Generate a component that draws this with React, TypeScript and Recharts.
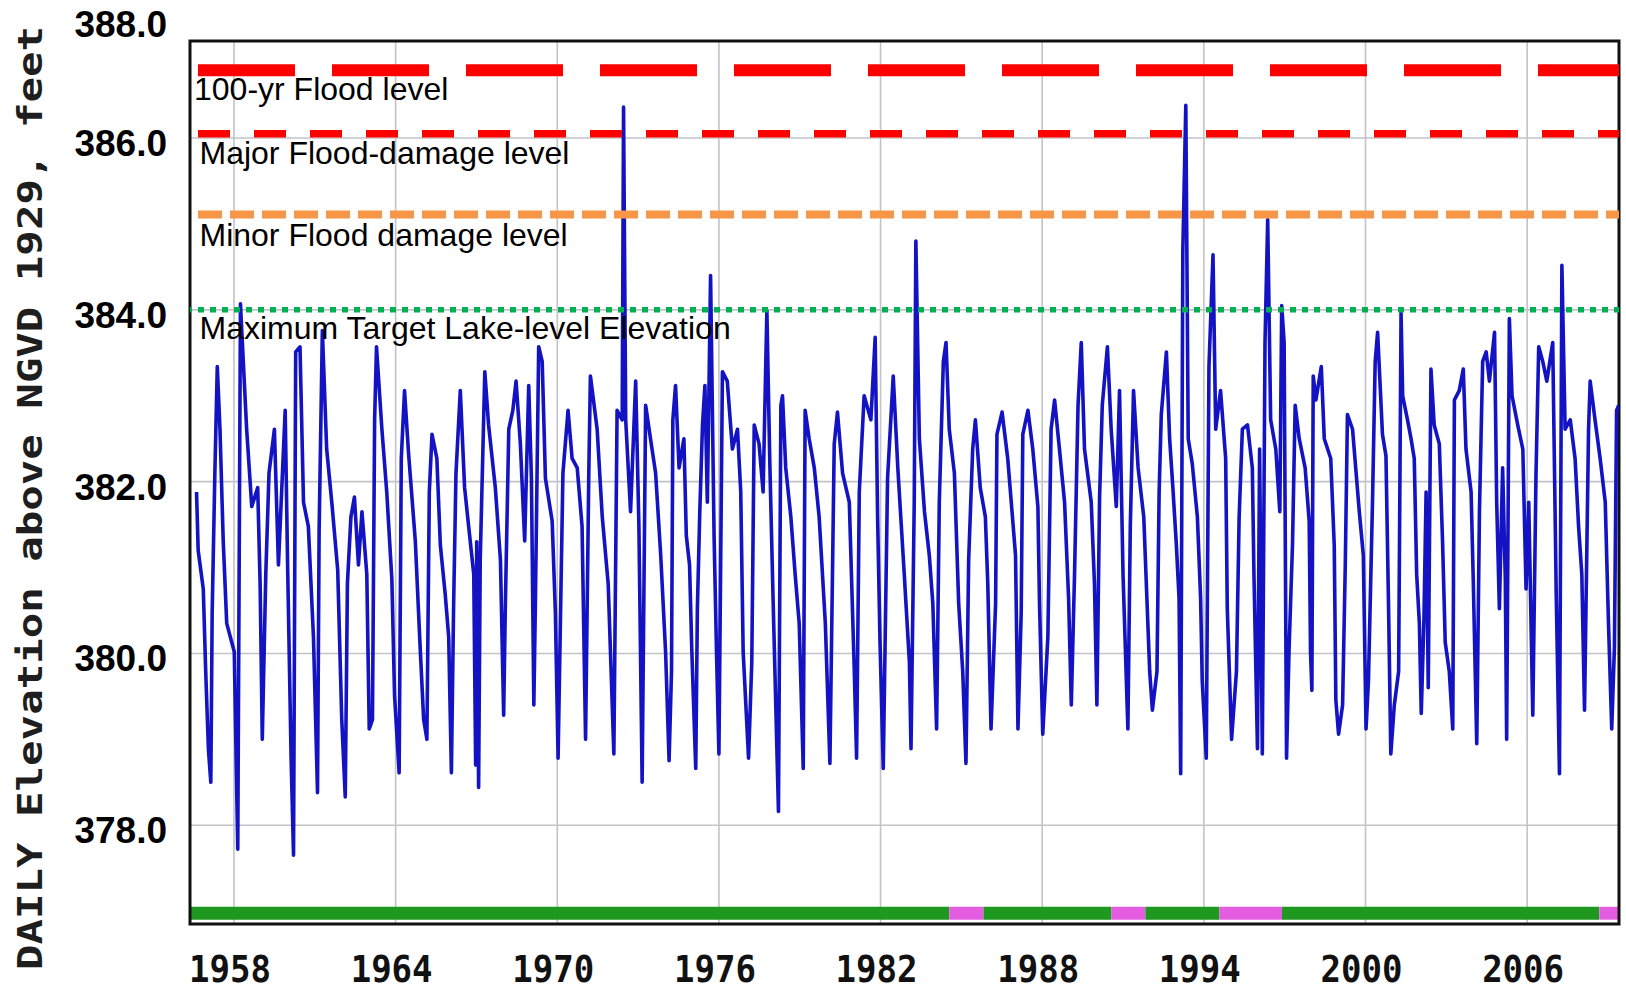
import React from 'react';
import { LineChart, Line, XAxis, YAxis, CartesianGrid, ReferenceLine, ReferenceArea } from 'recharts';

// ---------- data (decimal year, daily lake elevation ft NGVD 1929) ----------
const levels1956to1965: [number, number][] = [
  [1956.61, 381.88], [1956.67, 381.2], [1956.86, 380.75], [1956.95, 379.79], [1957.05, 378.89],
  [1957.14, 378.5], [1957.19, 380.47], [1957.29, 382.1], [1957.38, 383.34], [1957.48, 382.61],
  [1957.6, 381.31], [1957.73, 380.35], [1958.01, 380.02], [1958.14, 377.72], [1958.24, 384.07],
  [1958.47, 382.61], [1958.66, 381.71], [1958.88, 381.93], [1958.97, 380.81], [1959.05, 379.0],
  [1959.18, 380.92], [1959.3, 382.1], [1959.5, 382.61], [1959.65, 381.03], [1959.9, 382.83],
  [1959.99, 381.03], [1960.12, 378.78], [1960.21, 377.65], [1960.29, 383.51], [1960.45, 383.57],
  [1960.58, 381.76], [1960.76, 381.48], [1960.95, 380.19], [1961.1, 378.38], [1961.16, 381.43],
  [1961.28, 383.76], [1961.44, 382.38], [1961.63, 381.76], [1961.85, 380.97], [1962.0, 379.23],
  [1962.13, 378.33], [1962.21, 380.81], [1962.34, 381.59], [1962.47, 381.82], [1962.62, 381.03],
  [1962.75, 381.65], [1962.93, 380.92], [1963.02, 379.12], [1963.14, 379.23], [1963.22, 382.72],
  [1963.29, 383.57], [1963.49, 382.61], [1963.67, 381.88], [1963.86, 380.86], [1963.96, 379.51],
  [1964.13, 378.61], [1964.21, 382.27], [1964.33, 383.06], [1964.48, 382.33], [1964.73, 381.31],
  [1964.91, 380.07], [1965.04, 379.23],
];

const levels1965to1974: [number, number][] = [
  [1965.16, 379.0], [1965.25, 381.88], [1965.35, 382.55], [1965.53, 382.27], [1965.66, 381.26],
  [1965.84, 380.69], [1965.97, 380.19], [1966.07, 378.61], [1966.15, 380.52], [1966.24, 382.1],
  [1966.4, 383.06], [1966.56, 381.93], [1966.71, 381.48], [1966.9, 380.92], [1966.97, 378.7],
  [1967.01, 381.3], [1967.08, 378.44], [1967.14, 381.09], [1967.31, 383.28], [1967.45, 382.66],
  [1967.7, 381.93], [1967.89, 381.09], [1968.01, 379.28], [1968.07, 380.52], [1968.2, 382.61],
  [1968.35, 382.83], [1968.47, 383.17], [1968.63, 382.44], [1968.79, 381.31], [1968.94, 383.12],
  [1969.04, 382.04], [1969.13, 379.4], [1969.19, 380.64], [1969.31, 383.57], [1969.44, 383.4],
  [1969.56, 382.04], [1969.81, 381.54], [1969.93, 380.47], [1970.03, 378.78], [1970.21, 382.1],
  [1970.4, 382.83], [1970.55, 382.27], [1970.74, 382.16], [1970.92, 381.48], [1971.05, 379.0],
  [1971.17, 382.1], [1971.23, 383.23], [1971.48, 382.61], [1971.67, 381.59], [1971.89, 380.81],
  [1972.01, 379.68], [1972.1, 378.83], [1972.22, 382.83], [1972.41, 382.72], [1972.46, 386.36],
  [1972.54, 382.72], [1972.72, 381.65], [1972.91, 383.17], [1973.03, 381.48], [1973.15, 378.5],
  [1973.28, 382.89], [1973.46, 382.5], [1973.65, 382.1], [1973.84, 381.14], [1974.02, 380.02],
  [1974.15, 378.75],
];

const levels1974to1983: [number, number][] = [
  [1974.24, 379.79], [1974.29, 382.72], [1974.39, 383.12], [1974.52, 382.16], [1974.7, 382.5],
  [1974.79, 381.37], [1974.91, 381.03], [1974.99, 380.07], [1975.14, 378.66], [1975.2, 380.52],
  [1975.29, 381.65], [1975.39, 382.66], [1975.48, 383.12], [1975.57, 381.76], [1975.69, 384.4],
  [1975.82, 381.37], [1975.91, 380.02], [1976.0, 378.83], [1976.13, 383.28], [1976.31, 383.17],
  [1976.5, 382.38], [1976.69, 382.61], [1976.81, 381.88], [1976.9, 380.02], [1977.1, 378.78],
  [1977.22, 379.9], [1977.31, 382.66], [1977.49, 382.44], [1977.64, 381.88], [1977.78, 383.99],
  [1977.89, 382.21], [1978.01, 380.64], [1978.21, 378.16], [1978.3, 382.89], [1978.36, 383.0],
  [1978.48, 382.16], [1978.67, 381.59], [1978.83, 380.92], [1978.98, 380.35], [1979.13, 378.66],
  [1979.2, 382.83], [1979.35, 382.5], [1979.54, 382.16], [1979.72, 381.59], [1979.95, 380.35],
  [1980.12, 378.72], [1980.28, 382.44], [1980.4, 382.81], [1980.59, 382.1], [1980.84, 381.76],
  [1981.02, 379.85], [1981.11, 378.78], [1981.21, 381.88], [1981.39, 383.0], [1981.64, 382.72],
  [1981.8, 383.68], [1981.89, 381.59], [1981.98, 380.13], [1982.1, 378.66], [1982.26, 382.04],
  [1982.47, 383.23], [1982.64, 382.16], [1982.88, 380.92],
];

const levels1983to1992: [number, number][] = [
  [1983.07, 379.9], [1983.13, 378.89], [1983.25, 381.76], [1983.31, 384.8], [1983.44, 382.5],
  [1983.63, 381.65], [1983.81, 381.14], [1983.94, 380.58], [1984.08, 379.12], [1984.18, 381.76],
  [1984.33, 383.4], [1984.43, 383.62], [1984.55, 382.61], [1984.74, 382.1], [1984.9, 380.58],
  [1985.05, 379.79], [1985.17, 378.72], [1985.27, 381.09], [1985.42, 382.38], [1985.52, 382.72],
  [1985.7, 381.93], [1985.89, 381.59], [1985.98, 380.81], [1986.1, 379.12], [1986.27, 380.58],
  [1986.32, 382.55], [1986.51, 382.81], [1986.72, 382.27], [1986.88, 381.65], [1987.01, 381.14],
  [1987.1, 379.12], [1987.22, 380.47], [1987.28, 382.55], [1987.47, 382.83], [1987.65, 382.38],
  [1987.84, 381.71], [1987.9, 380.58], [1988.02, 379.06], [1988.21, 380.19], [1988.33, 382.61],
  [1988.46, 382.95], [1988.64, 382.38], [1988.83, 381.76], [1988.98, 380.64], [1989.08, 379.4],
  [1989.2, 380.92], [1989.33, 382.89], [1989.45, 383.62], [1989.57, 382.38], [1989.82, 381.76],
  [1989.94, 380.81], [1990.03, 379.4], [1990.13, 381.82], [1990.23, 382.89], [1990.42, 383.57],
  [1990.56, 382.61], [1990.75, 381.71], [1990.87, 383.06], [1991.0, 380.92], [1991.18, 379.12],
  [1991.27, 381.48], [1991.39, 383.06], [1991.56, 382.16], [1991.77, 381.59], [1991.99, 379.79],
];

const levels1992to2001: [number, number][] = [
  [1992.09, 379.34], [1992.26, 379.79], [1992.34, 381.88], [1992.42, 382.78], [1992.61, 383.51],
  [1992.73, 382.5], [1992.86, 381.88], [1992.98, 381.26], [1993.08, 380.64], [1993.14, 378.6],
  [1993.22, 384.69], [1993.33, 386.38], [1993.42, 382.5], [1993.57, 382.21], [1993.76, 381.59],
  [1993.88, 380.64], [1993.94, 379.68], [1994.09, 378.78], [1994.19, 383.34], [1994.34, 384.64],
  [1994.44, 382.61], [1994.62, 383.06], [1994.81, 382.27], [1994.87, 380.52], [1995.03, 379.0],
  [1995.21, 379.79], [1995.31, 381.59], [1995.43, 382.61], [1995.62, 382.66], [1995.8, 382.16],
  [1995.86, 380.92], [1995.99, 378.89], [1996.07, 382.38], [1996.17, 378.83], [1996.27, 383.62],
  [1996.37, 385.05], [1996.48, 382.72], [1996.67, 382.38], [1996.82, 381.65], [1996.89, 384.05],
  [1996.98, 383.62], [1997.07, 378.78], [1997.16, 380.02], [1997.29, 381.26], [1997.39, 382.89],
  [1997.54, 382.5], [1997.76, 382.16], [1997.91, 381.54], [1997.96, 380.02], [1998.01, 379.57],
  [1998.06, 383.23], [1998.16, 382.95], [1998.36, 383.34], [1998.47, 382.5], [1998.71, 382.27],
  [1998.84, 381.26], [1998.9, 379.46], [1999.0, 379.06], [1999.15, 379.4], [1999.25, 381.03],
  [1999.33, 382.78], [1999.52, 382.61], [1999.77, 381.65], [1999.92, 381.14], [2000.02, 379.12],
  [2000.11, 379.68], [2000.26, 381.76], [2000.36, 383.4], [2000.45, 383.74], [2000.63, 382.55],
  [2000.76, 382.3],
];

const levels2001to2009: [number, number][] = [
  [2000.86, 380.47], [2000.94, 378.83], [2001.07, 379.4], [2001.23, 379.79], [2001.32, 383.96],
  [2001.38, 383.0], [2001.56, 382.72], [2001.69, 382.5], [2001.81, 382.27], [2001.9, 380.92],
  [2002.0, 380.35], [2002.07, 379.3], [2002.17, 380.4], [2002.25, 381.88], [2002.33, 379.6],
  [2002.43, 383.31], [2002.55, 382.66], [2002.74, 382.44], [2002.86, 381.31], [2002.96, 380.13],
  [2003.11, 379.79], [2003.24, 379.12], [2003.3, 382.95], [2003.48, 383.06], [2003.63, 383.31],
  [2003.73, 382.38], [2003.92, 381.88], [2004.0, 380.86], [2004.13, 378.95], [2004.23, 381.65],
  [2004.35, 383.4], [2004.48, 383.51], [2004.6, 383.17], [2004.79, 383.74], [2004.87, 381.76],
  [2004.97, 380.52], [2005.09, 382.16], [2005.19, 380.86], [2005.24, 379.0], [2005.34, 383.9],
  [2005.44, 383.0], [2005.65, 382.66], [2005.84, 382.38], [2005.96, 380.75], [2006.06, 381.76],
  [2006.21, 379.28], [2006.33, 382.1], [2006.43, 383.57], [2006.58, 383.4], [2006.73, 383.17],
  [2006.95, 383.62], [2007.08, 380.69], [2007.2, 378.6], [2007.29, 384.52], [2007.41, 382.61],
  [2007.6, 382.72], [2007.78, 382.27], [2007.91, 381.48], [2008.03, 380.92], [2008.13, 379.34],
  [2008.28, 382.61], [2008.34, 383.17], [2008.52, 382.72], [2008.71, 382.27], [2008.9, 381.76],
  [2009.02, 380.35], [2009.14, 379.12], [2009.24, 380.07], [2009.32, 382.83], [2009.4, 382.89],
];

const yearTicks = [1958, 1964, 1970, 1976, 1982, 1988, 1994, 2000, 2006];
const elevationTicks = [378, 380, 382, 384, 386];
const topElevationLabel = '388.0';
const axisTitle = 'DAILY Elevation above NGVD 1929, feet';

const levelNames = ['100-yr Flood level', 'Major Flood-damage level', 'Minor Flood damage level', 'Maximum Target Lake-level Elevation'];
const levelValues = [386.79, 386.05, 385.11, 384.0];

// status band along the bottom: [from, to, kind]
const statusBands: [number, number, string][] = [
  [1956.367, 1984.55, 'normal'], [1984.55, 1985.82, 'alert'], [1985.82, 1990.57, 'normal'],
  [1990.57, 1991.83, 'alert'], [1991.83, 1994.58, 'normal'], [1994.58, 1996.9, 'alert'],
  [1996.9, 2008.68, 'normal'], [2008.68, 2009.41, 'alert'],
];

// ---------- layout / style ----------
const X_DOMAIN: [number, number] = [1956.367, 2009.41];
const Y_DOMAIN: [number, number] = [376.85, 387.13];
const BAND_RANGE: [number, number] = [376.9, 377.05];
const PLOT_TOP = 41;
const PLOT_BOTTOM = 924;

const levelStyles = [
  { stroke: '#FF0000', width: 12, dash: '97 37', dx: 4, dy: 30 },
  { stroke: '#FF0000', width: 7.5, dash: '32 24', dx: 9.5, dy: 30.5 },
  { stroke: '#F79646', width: 8, dash: '24 8', dx: 9.5, dy: 31 },
  { stroke: '#00B050', width: 5.5, dash: '6 6', dx: 9.5, dy: 29 },
];
const bandColors: Record<string, string> = { normal: '#1F981F', alert: '#E45CE0' };

const minorYears: number[] = [];
for (let y = 1957; y <= 2009; y++) minorYears.push(y);

const series = [
  ...levels1956to1965, ...levels1965to1974, ...levels1974to1983,
  ...levels1983to1992, ...levels1992to2001, ...levels2001to2009,
].map(([year, level]) => ({ year, level }));

const SANS = '"Liberation Sans", Arial, Helvetica, sans-serif';
const MONO = '"DejaVu Sans Mono", "Liberation Mono", monospace';

const LevelLabel = (props: any) => {
  const vb = props.viewBox || {};
  return (
    <text x={(vb.x ?? 190) + props.dx} y={(vb.y ?? 0) + props.dy} fontFamily={SANS} fontSize={32} fill="#000">
      {props.text}
    </text>
  );
};

const YearTick = (props: any) => (
  <text
    x={props.x - 4}
    y={982}
    textAnchor="middle"
    fontFamily={MONO}
    fontWeight="bold"
    fontSize={38}
    fill="#111"
    textLength={82}
    lengthAdjust="spacingAndGlyphs"
  >
    {props.payload.value}
  </text>
);

const ElevTick = (props: any) => (
  <text x={167} y={props.y + 18} textAnchor="end" fontFamily={SANS} fontWeight="bold" fontSize={37} fill="#000">
    {Number(props.payload.value).toFixed(1)}
  </text>
);

export default function App() {
  return (
    <div style={{ position: 'absolute', left: 0, top: 0, width: 1626, height: 992, background: '#fff' }}>
      <LineChart width={1626} height={992} data={series} margin={{ top: PLOT_TOP, right: 7, bottom: 0, left: 0 }}>
        <CartesianGrid stroke="#c3c3c8" strokeWidth={1.6} />
        <XAxis
          type="number"
          dataKey="year"
          domain={X_DOMAIN}
          ticks={yearTicks}
          interval={0}
          allowDataOverflow
          height={68}
          axisLine={false}
          tickLine={false}
          tick={(p: any) => <YearTick {...p} />}
        />
        <XAxis
          xAxisId="top"
          orientation="top"
          type="number"
          domain={X_DOMAIN}
          ticks={minorYears}
          interval={0}
          allowDataOverflow
          height={0}
          axisLine={false}
          tickLine={false}
          tick={(p: any) => <line x1={p.x} x2={p.x} y1={PLOT_TOP} y2={PLOT_TOP + 6} stroke="#111" strokeWidth={2} />}
        />
        <XAxis
          xAxisId="bottom"
          orientation="bottom"
          type="number"
          domain={X_DOMAIN}
          ticks={minorYears}
          interval={0}
          allowDataOverflow
          height={0}
          axisLine={false}
          tickLine={false}
          tick={(p: any) => <line x1={p.x} x2={p.x} y1={PLOT_BOTTOM - 6} y2={PLOT_BOTTOM} stroke="#111" strokeWidth={2} />}
        />
        <YAxis
          type="number"
          domain={Y_DOMAIN}
          ticks={elevationTicks}
          interval={0}
          allowDataOverflow
          width={190}
          axisLine={false}
          tickLine={false}
          tick={(p: any) => <ElevTick {...p} />}
        />
        {statusBands.map(([from, to, kind], i) => (
          <ReferenceArea
            key={'band' + i}
            x1={from}
            x2={to}
            y1={BAND_RANGE[0]}
            y2={BAND_RANGE[1]}
            fill={bandColors[kind]}
            fillOpacity={1}
            stroke="none"
            ifOverflow="extendDomain"
          />
        ))}
        <Line
          type="linear"
          dataKey="level"
          stroke="#1313C4"
          strokeWidth={3.6}
          strokeLinejoin="round"
          dot={false}
          activeDot={false}
          isAnimationActive={false}
        />
        {levelValues.map((v, i) => (
          <ReferenceLine
            key={'lvl' + i}
            y={v}
            stroke={levelStyles[i].stroke}
            strokeWidth={levelStyles[i].width}
            strokeDasharray={levelStyles[i].dash}
            strokeDashoffset={-8}
            label={<LevelLabel text={levelNames[i]} dx={levelStyles[i].dx} dy={levelStyles[i].dy} />}
          />
        ))}
        <ReferenceArea
          x1={X_DOMAIN[0]}
          x2={X_DOMAIN[1]}
          y1={Y_DOMAIN[0]}
          y2={Y_DOMAIN[1]}
          fill="none"
          stroke="#111"
          strokeWidth={3}
        />
      </LineChart>
      <svg width={1626} height={992} style={{ position: 'absolute', left: 0, top: 0, pointerEvents: 'none' }}>
        <text x={167} y={37} textAnchor="end" fontFamily={SANS} fontWeight="bold" fontSize={37} fill="#000">
          {topElevationLabel}
        </text>
        <text
          transform="translate(42,498) rotate(-90)"
          textAnchor="middle"
          fontFamily={MONO}
          fontWeight="bold"
          fontSize={34}
          fill="#1e1e1e"
          textLength={944}
          lengthAdjust="spacingAndGlyphs"
        >
          {axisTitle}
        </text>
      </svg>
    </div>
  );
}
